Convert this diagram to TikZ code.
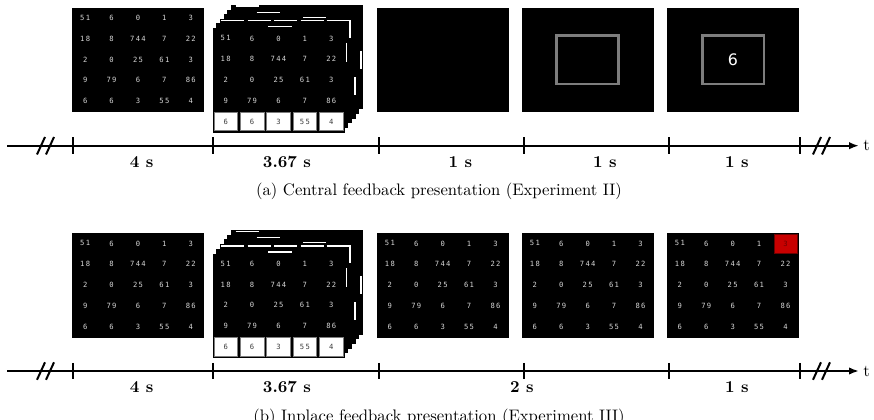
\documentclass[tikz,border=0pt]{standalone}
\usepackage{fontspec}
\newfontfamily\numfont[LetterSpace=18]{DejaVu Sans Mono}
\newfontfamily\bigfont{DejaVu Sans}
\usetikzlibrary{arrows.meta}
\definecolor{numgray}{RGB}{215,215,215}
\definecolor{framegray}{RGB}{125,125,125}
\definecolor{cellred}{RGB}{200,0,0}
\definecolor{celldark}{RGB}{110,0,0}
\definecolor{boxtext}{RGB}{60,60,60}

\newcommand\numrows{{51,6,0,1,3},{18,8,744,7,22},{2,0,25,61,3},{9,79,6,7,86},{6,6,3,55,4}}
\newcommand\numrowsfour{{51,6,0,1,3},{18,8,744,7,22},{2,0,25,61,3},{9,79,6,7,86}}

% black screen
\newcommand\screen[3]{\node[screenbox] (#3) at (#1,#2) {};}
% numbers: x, y (top-left), prefix, list of rows
\newcommand\numbers[4]{%
  \foreach [count=\ri] \row in #4 {
    \foreach [count=\ci] \v in \row {
      \node[num, hl-\ri-\ci/.try] (#3-\ri-\ci) at ({#1+13.2+26.4*(\ci-1)},{#2+10.4+20.8*(\ri-1)}) {\v};
    }
  }%
}
% stack of cards, y offset, prefix
\newcommand\cardstack[2]{%
  \begin{scope}[shift={(0,#1)}]
    \foreach \k in {5,4,3,2,1}
      \fill[black] ({212.5+3.7*\k},{28-4.6*\k}) rectangle ++(132,104.5);
    \screen{212.5}{28}{#2-front}
    \numbers{212.5}{28}{#2}{\numrowsfour}
    \foreach [count=\ci] \v in {6,6,3,55,4}
      \node[boxnum] (#2-b\ci) at ({212.5+13.2+26.4*(\ci-1)},{28+10.4+20.8*4}) {\v};
    \draw[frag] (235.7,6) -- (259.3,6);
    \draw[frag] (256.7,12.3) -- (280,12.3);
    \draw[frag] (303,17.3) -- (326,17.3);
    \draw[frag] (221,20.7) -- (244.3,20.7);
    \draw[frag] (247.7,20.7) -- (271,20.7);
    \draw[frag] (274,20.7) -- (297.3,20.7);
    \draw[frag] (300.7,20.7) -- (324.3,20.7);
    \draw[frag] (326.7,20.7) -- (350,20.7) -- (350,38);
    \draw[frag] (268.3,26.7) -- (291.7,26.7);
    \draw[frag] (346.7,43) -- (346.7,62);
    \draw[frag] (361,51) -- (361,69);
    \draw[frag] (355,77) -- (355,95);
  \end{scope}%
}
% timeline: y offset, prefix
\newcommand\timeline[2]{%
  \begin{scope}[shift={(0,#1)}]
    \coordinate (#2-s) at (7,145.7);
    \coordinate (#2-e) at (859,145.7);
    \draw[tline, -{Latex[length=6pt,width=4.5pt]}] (#2-s) -- (#2-e);
    \node[anchor=west, inner sep=0pt] (#2-t) at (863,145.7) {t};
    \foreach \x [count=\i] in {73.3,213.3,379,524,669,800}
      \draw[tick] (\x,137.5) coordinate (#2-k\i) -- (\x,153.9);
    \draw[brk] (37,154.5) -- (45,137);
    \draw[brk] (46,154.5) -- (54,137);
    \draw[brk] (813,154.5) -- (821,137);
    \draw[brk] (822,154.5) -- (830,137);
  \end{scope}%
}

\begin{document}
\begin{tikzpicture}[x=0.6pt,y=-0.6pt,
  screenbox/.style={anchor=north west, fill=black, draw=none, inner sep=0pt,
    minimum width=79.2pt, minimum height=62.7pt},
  num/.style={font=\numfont\fontsize{4.3}{4.5}\selectfont, text=numgray, inner sep=0pt},
  boxnum/.style={draw=framegray, line width=0.4pt, fill=white, text=boxtext,
    font=\numfont\fontsize{4.3}{4.5}\selectfont, inner sep=0pt,
    minimum width=14.2pt, minimum height=11pt},
  frag/.style={white, line width=0.9pt},
  tline/.style={line width=1.35pt},
  tick/.style={line width=1.2pt},
  brk/.style={line width=1.2pt},
  dur/.style={font=\bfseries, anchor=base, inner sep=0pt},
  captext/.style={anchor=base, inner sep=0pt},
  fbox/.style={draw=framegray, line width=1.6pt, inner sep=0pt,
    minimum width=37pt, minimum height=29pt}
]
\useasboundingbox (0,0) rectangle (874,420);

% ---------------- (a) ----------------
\screen{72}{7.5}{a1}
\numbers{72}{7.5}{a1}{\numrows}
\cardstack{0}{a2}
\screen{376.7}{7.5}{a3}
\screen{521.7}{7.5}{a4}
\node[fbox] (a4f) at (587.5,59.8) {};
\screen{666.7}{7.5}{a5}
\node[fbox, text=white, font=\bigfont\fontsize{9.5}{9.5}\selectfont] (a5f) at (733,59.8) {6};

\timeline{0}{ta}
\node[dur] (ta-l1) at (141.7,167.3) {4 s};
\node[dur] (ta-l2) at (287,167.3) {3.67 s};
\node[dur] (ta-l3) at (460.5,167.3) {1 s};
\node[dur] (ta-l4) at (605,167.3) {1 s};
\node[dur] (ta-l5) at (737,167.3) {1 s};
\node[captext] (capa) at (439,195.5) {(a) Central feedback presentation (Experiment II)};

% ---------------- (b) ----------------
\screen{72}{233}{b1}
\numbers{72}{233}{b1}{\numrows}
\cardstack{225.3}{b2}
\screen{376.7}{233}{b3}
\numbers{376.7}{233}{b3}{\numrows}
\screen{521.7}{233}{b4}
\numbers{521.7}{233}{b4}{\numrows}
\screen{666.7}{233}{b5}
\fill[cellred, draw=celldark, line width=0.5pt] (774,234.3) rectangle (797.3,253.3);
\begin{scope}[hl-1-5/.style={text=celldark}]
\numbers{666.7}{233}{b5}{\numrows}
\end{scope}

\timeline{225.3}{tb}
\node[dur] (tb-l1) at (141.7,392.6) {4 s};
\node[dur] (tb-l2) at (287,392.6) {3.67 s};
\node[dur] (tb-l3) at (522,392.6) {2 s};
\node[dur] (tb-l4) at (737,392.6) {1 s};
\node[captext] (capb) at (439,421) {(b) Inplace feedback presentation (Experiment III)};
\end{tikzpicture}
\end{document}
